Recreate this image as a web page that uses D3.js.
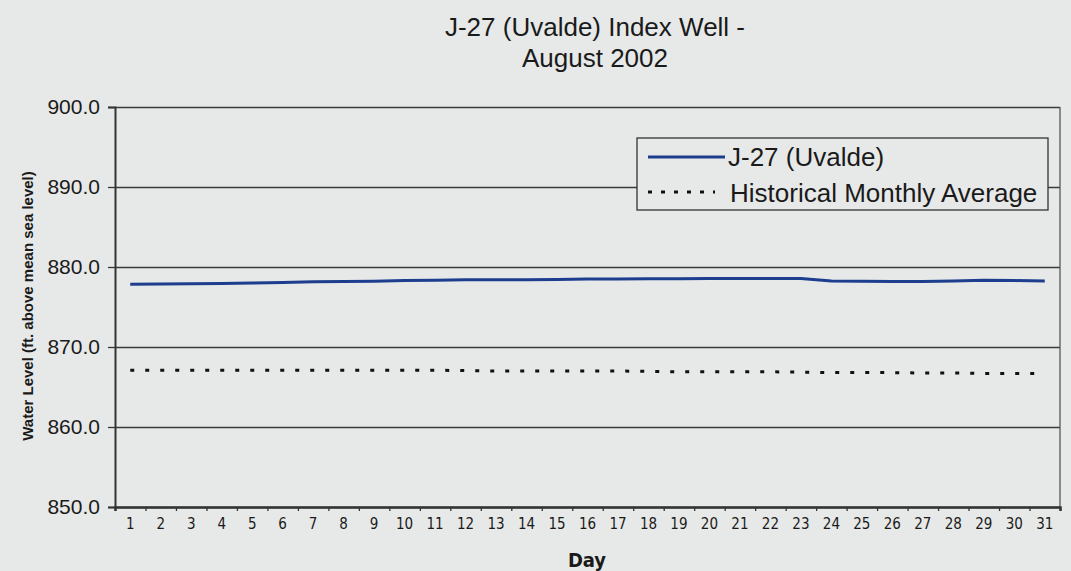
<!DOCTYPE html>
<html lang="en">
<head>
  <meta charset="UTF-8">
  <title>J-27 (Uvalde) Index Well - August 2002</title>
  <script src="https://cdn.jsdelivr.net/npm/d3@7"></script>
  <style>
    body { margin: 0; background: #e7e9e8; }
    svg { display: block; font-family: "Liberation Sans", Arial, sans-serif; }
    .narrow { font-family: "Liberation Sans Narrow", "DejaVu Sans Condensed", sans-serif; }
  </style>
</head>
<body>
<div id="chart"></div>

<script type="text/javascript">

  // data
  var days = d3.range(1, 32);
  var wellLevel = [877.85, 877.87, 877.90, 877.95, 878.00, 878.05, 878.15, 878.20,
                   878.22, 878.30, 878.35, 878.40, 878.40, 878.42, 878.45, 878.50,
                   878.50, 878.52, 878.52, 878.55, 878.55, 878.55, 878.55, 878.25,
                   878.22, 878.20, 878.20, 878.25, 878.35, 878.30, 878.25];
  var histAvg = [867.1, 867.1, 867.1, 867.1, 867.1, 867.1, 867.1, 867.1,
                 867.1, 867.1, 867.1, 867.05, 867.0, 867.0, 867.0, 867.0,
                 867.0, 866.95, 866.9, 866.9, 866.9, 866.9, 866.85, 866.8,
                 866.8, 866.8, 866.75, 866.75, 866.7, 866.7, 866.7];
  var yTicks = [850, 860, 870, 880, 890, 900];
  var seriesNames = ["J-27 (Uvalde)", "Historical Monthly Average"];

  var W = 1071, H = 571;
  var margin = {top: 107, right: 11, bottom: 64, left: 115};
  var width = W - margin.left - margin.right,
      height = H - margin.top - margin.bottom;

  var svg = d3.select("#chart").append("svg")
    .attr("width", W)
    .attr("height", H);

  // title
  svg.append("text")
    .attr("x", 595).attr("y", 36)
    .attr("text-anchor", "middle")
    .attr("font-size", 26).attr("fill", "#1a1a1a")
    .text("J-27 (Uvalde) Index Well -");
  svg.append("text")
    .attr("x", 595).attr("y", 67)
    .attr("text-anchor", "middle")
    .attr("font-size", 26).attr("fill", "#1a1a1a")
    .text("August 2002");

  var g = svg.append("g")
    .attr("transform", "translate(" + margin.left + "," + margin.top + ")");

  var x = d3.scaleBand().domain(days).range([0, width]).padding(0);
  var xEdge = d3.scaleLinear().domain([0, days.length]).range([0, width]);
  var y = d3.scaleLinear().domain([850, 900]).range([height, 0]);

  // gridlines
  var grid = g.append("g")
    .call(d3.axisLeft(y).tickValues(yTicks).tickSize(-width).tickFormat(""));
  grid.select(".domain").remove();
  grid.selectAll("line").attr("stroke", "#3a3a3a").attr("stroke-width", 1.3);

  // right border
  g.append("line")
    .attr("x1", width).attr("x2", width)
    .attr("y1", 0).attr("y2", height)
    .attr("stroke", "#555").attr("stroke-width", 1.3);

  // y axis
  var yAxis = g.append("g")
    .call(d3.axisLeft(y).tickValues(yTicks).tickSize(7).tickPadding(8)
      .tickFormat(d3.format(".1f")));
  yAxis.select(".domain").attr("stroke", "#333").attr("stroke-width", 2);
  yAxis.selectAll("line").attr("stroke", "#333").attr("stroke-width", 1.3);
  yAxis.selectAll("text").attr("font-size", 21).attr("fill", "#1a1a1a")
    .attr("font-family", "Liberation Sans, Arial, sans-serif");

  // x axis: tick marks between days
  var xTicks = g.append("g")
    .attr("transform", "translate(0," + height + ")")
    .call(d3.axisBottom(xEdge).tickValues(d3.range(0, days.length + 1)).tickSize(4).tickFormat(""));
  xTicks.select(".domain").attr("stroke", "#333").attr("stroke-width", 2.5);
  xTicks.selectAll("line").attr("stroke", "#333").attr("stroke-width", 1.3);

  // x axis: day labels
  var xAxis = g.append("g")
    .attr("transform", "translate(0," + height + ")")
    .call(d3.axisBottom(x).tickSize(0).tickPadding(11));
  xAxis.select(".domain").remove();
  xAxis.selectAll("text").attr("class", "narrow").attr("font-size", 15).attr("fill", "#1a1a1a");

  // axis titles
  svg.append("text")
    .attr("class", "narrow")
    .attr("x", 587).attr("y", 567)
    .attr("text-anchor", "middle")
    .attr("font-size", 20).attr("font-weight", "bold").attr("fill", "#1a1a1a")
    .text("Day");
  svg.append("text")
    .attr("transform", "translate(33,306) rotate(-90)")
    .attr("text-anchor", "middle")
    .attr("font-size", 15).attr("font-weight", "bold").attr("fill", "#1a1a1a")
    .text("Water Level (ft. above mean sea level)");

  var cx = function(d, i) { return x(days[i]) + x.bandwidth() / 2; };

  // historical average, dotted
  g.append("path")
    .datum(histAvg)
    .attr("fill", "none")
    .attr("stroke", "#111")
    .attr("stroke-width", 3)
    .attr("stroke-dasharray", "4,11")
    .attr("d", d3.line().x(cx).y(function(d) { return y(d); }));

  // well level
  g.append("path")
    .datum(wellLevel)
    .attr("fill", "none")
    .attr("stroke", "#1d3d8e")
    .attr("stroke-width", 3)
    .attr("d", d3.line().x(cx).y(function(d) { return y(d); }));

  // legend
  var legend = svg.append("g").attr("transform", "translate(637,138)");
  legend.append("rect")
    .attr("width", 411).attr("height", 72)
    .attr("fill", "#e7e9e8").attr("stroke", "#333").attr("stroke-width", 1.3);
  legend.append("line")
    .attr("x1", 11).attr("x2", 88).attr("y1", 19).attr("y2", 19)
    .attr("stroke", "#1d3d8e").attr("stroke-width", 3);
  legend.append("line")
    .attr("x1", 11).attr("x2", 78).attr("y1", 54).attr("y2", 54)
    .attr("stroke", "#111").attr("stroke-width", 3).attr("stroke-dasharray", "4,9");
  legend.selectAll("text.leg")
    .data(seriesNames)
    .enter()
    .append("text")
    .attr("class", "leg")
    .attr("x", function(d, i) { return i === 0 ? 91 : 93; })
    .attr("y", function(d, i) { return 28 + i * 36; })
    .attr("font-size", 26).attr("fill", "#1a1a1a")
    .text(function(d) { return d; });

</script>
</body>
</html>
